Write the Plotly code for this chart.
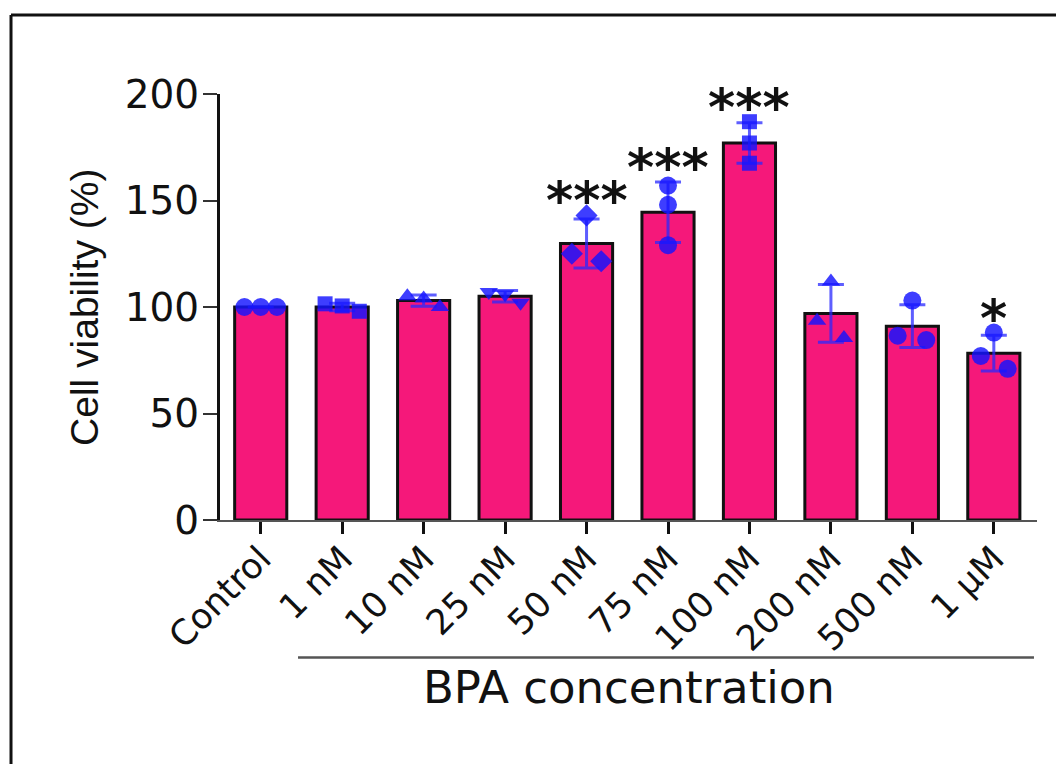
import plotly.graph_objects as go

categories = ["Control", "1 nM", "10 nM", "25 nM", "50 nM", "75 nM", "100 nM", "200 nM", "500 nM", "1 \u00b5M"]
bar_means = [100, 100, 103, 105, 129.8, 144.5, 177, 97, 91, 78.3]
bar_sd = [0, 1.8, 2.6, 2.7, 11.5, 14.2, 9.5, 13.6, 10.0, 8.4]
replicates = [
    [100, 100, 100],
    [101.5, 100.5, 98],
    [105, 104, 100],
    [107, 106, 102],
    [125, 143, 121.5],
    [157, 148, 129],
    [187, 177, 167.5],
    [93.5, 112, 85.5],
    [86.5, 103, 84.5],
    [77, 88, 71],
]
# horizontal spread of the replicate dots (category units)
spread = [
    [-0.2, 0, 0.2],
    [-0.21, 0, 0.21],
    [-0.2, 0, 0.2],
    [-0.2, 0, 0.19],
    [-0.18, 0, 0.18],
    [0, 0, 0],
    [0, 0, 0],
    [-0.17, 0, 0.16],
    [-0.18, 0, 0.17],
    [-0.16, 0, 0.17],
]
symbols = ["circle", "square", "triangle-up", "triangle-down", "diamond",
           "circle", "square", "triangle-up", "circle", "circle"]
marker_sizes = [18, 15, 16, 16, 17, 18, 15, 16, 18, 18]
significance = ["", "", "", "", "***", "***", "***", "", "", "*"]
y_ticks = [0, 50, 100, 150, 200]

x_idx = list(range(len(categories)))

fig = go.Figure()
fig.add_trace(go.Bar(
    x=x_idx, y=bar_means, width=0.64,
    marker=dict(color="#F5187A", line=dict(color="#111111", width=3)),
    hoverinfo="skip",
))
fig.add_trace(go.Scatter(
    x=x_idx, y=bar_means, mode="markers",
    marker=dict(size=1, color="rgba(0,0,0,0)"),
    error_y=dict(type="data", array=bar_sd, visible=True,
                 color="rgba(40,40,255,0.75)", thickness=3, width=13),
    hoverinfo="skip",
))
for i, vals in enumerate(replicates):
    fig.add_trace(go.Scatter(
        x=[i + d for d in spread[i]], y=vals, mode="markers",
        marker=dict(symbol=symbols[i], size=marker_sizes[i],
                    color="rgba(20,20,255,0.82)", line=dict(width=0)),
        hoverinfo="skip",
    ))

annotations = []
for i, lab in enumerate(significance):
    if not lab:
        continue
    top = max(max(replicates[i]), bar_means[i] + bar_sd[i])
    annotations.append(dict(
        x=i, y=top, xref="x", yref="y", text="<b>" + lab + "</b>", showarrow=False,
        yanchor="bottom", xanchor="center", yshift=-17,
        font=dict(family="DejaVu Sans", size=52, color="#111111"),
    ))

annotations.append(dict(
    x=-0.1665, y=0.5, xref="paper", yref="paper", text="Cell viability (%)",
    textangle=-90, showarrow=False, xanchor="center", yanchor="middle",
    font=dict(family="Liberation Sans", size=39, color="#111111"),
))
annotations.append(dict(
    x=0.5, y=-0.394, xref="paper", yref="paper", text="BPA concentration",
    showarrow=False, xanchor="center", yanchor="middle",
    font=dict(family="DejaVu Sans", size=45, color="#111111"),
))

shapes = [
    # outer frame (left and top edges)
    dict(type="line", xref="paper", yref="paper", x0=-0.2558, y0=1.1854, x1=1.2, y1=1.1854,
         line=dict(color="#111111", width=3)),
    dict(type="line", xref="paper", yref="paper", x0=-0.2558, y0=1.1854, x1=-0.2558, y1=-1.0,
         line=dict(color="#111111", width=3)),
    # group bracket under tick labels
    dict(type="line", xref="paper", yref="paper", x0=0.0955, y0=-0.3228, x1=0.9963, y1=-0.3228,
         line=dict(color="#555555", width=2.5)),
]

fig.update_layout(
    width=1064, height=764,
    margin=dict(l=212, r=35, t=86, b=252),
    plot_bgcolor="white", paper_bgcolor="white",
    showlegend=False,
    annotations=annotations, shapes=shapes,
    xaxis=dict(
        range=[-0.5, 9.53], tickvals=x_idx, ticktext=categories, tickangle=-45,
        ticks="outside", ticklen=12, tickwidth=2.5, tickcolor="#111111",
        showline=True, linecolor="#555555", linewidth=2,
        showgrid=False, zeroline=False, ticklabelstandoff=-10,
        tickfont=dict(family="DejaVu Sans", size=35, color="#111111"),
    ),
    yaxis=dict(
        range=[0, 200], tickvals=y_ticks,
        ticks="outside", ticklen=14, tickwidth=2, tickcolor="#333333",
        showline=True, linecolor="#111111", linewidth=3,
        showgrid=False, zeroline=False, ticklabelstandoff=-4,
        tickfont=dict(family="DejaVu Sans", size=39, color="#111111"),
    ),
)

fig.write_html("out.html")
